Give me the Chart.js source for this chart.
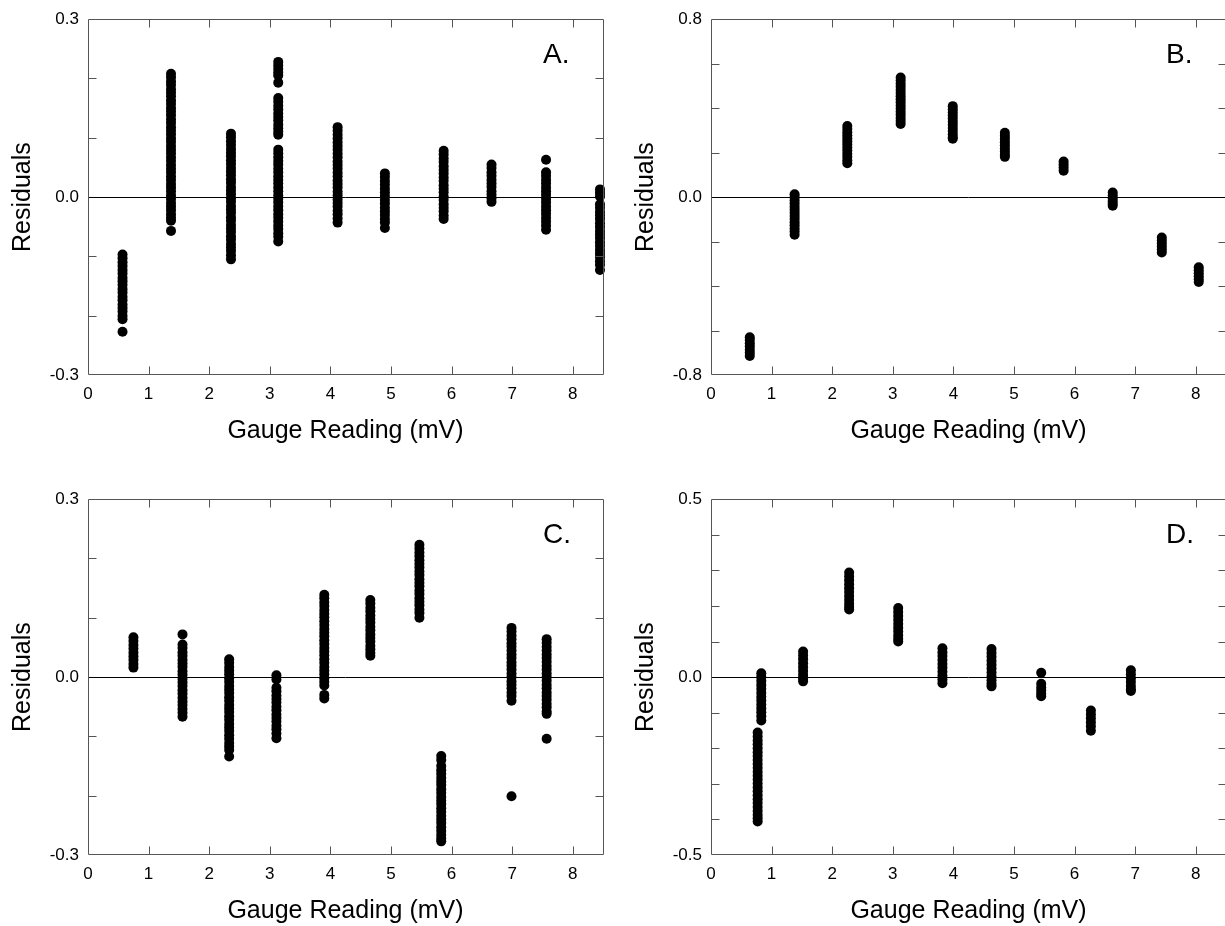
<!DOCTYPE html>
<html>
<head>
<meta charset="utf-8">
<title>Residuals vs gauge reading</title>
<script src="https://cdn.jsdelivr.net/npm/chart.js@4.4.0/dist/chart.umd.min.js"></script>
<style>
  html, body { margin: 0; padding: 0; background: #fff; }
  body { width: 1225px; height: 926px; overflow: hidden; position: relative; }
  canvas { position: absolute; }
</style>
</head>
<body>
<canvas id="panelA" width="640" height="480" style="left:0px;top:0px"></canvas>
<canvas id="panelB" width="640" height="480" style="left:623px;top:0px"></canvas>
<canvas id="panelC" width="640" height="480" style="left:0px;top:480px"></canvas>
<canvas id="panelD" width="640" height="480" style="left:623px;top:480px"></canvas>
<script>
// shared x axis (mV)
const xTicks = [0, 1, 2, 3, 4, 5, 6, 7, 8];
const xMax = 8.5;

// panel A - one list of residuals per gauge reading
const aX = [0.57, 1.37, 2.36, 3.14, 4.12, 4.90, 5.87, 6.66, 7.56, 8.45];
const aY = [
  [-0.097, -0.103, -0.110, -0.116, -0.123, -0.129, -0.136, -0.142, -0.148, -0.155, -0.161, -0.168, -0.174, -0.181, -0.187, -0.193, -0.200, -0.206, -0.227],
  [0.208, 0.202, 0.195, 0.189, 0.182, 0.176, 0.170, 0.163, 0.157, 0.150, 0.144, 0.138, 0.131, 0.125, 0.118, 0.112, 0.106, 0.099, 0.093, 0.086, 0.080, 0.074, 0.067, 0.061, 0.054, 0.048, 0.042, 0.035, 0.029, 0.022, 0.016, 0.010, 0.003, -0.003, -0.010, -0.016, -0.022, -0.029, -0.035, -0.040, -0.057],
  [0.107, 0.101, 0.094, 0.088, 0.081, 0.075, 0.069, 0.062, 0.056, 0.049, 0.043, 0.037, 0.030, 0.024, 0.017, 0.011, 0.005, -0.002, -0.008, -0.015, -0.021, -0.027, -0.034, -0.040, -0.047, -0.053, -0.059, -0.066, -0.072, -0.079, -0.085, -0.091, -0.098, -0.105],
  [0.228, 0.222, 0.216, 0.210, 0.205, 0.193, 0.167, 0.161, 0.154, 0.148, 0.141, 0.135, 0.129, 0.122, 0.116, 0.110, 0.105, 0.080, 0.074, 0.067, 0.061, 0.055, 0.048, 0.042, 0.035, 0.029, 0.023, 0.016, 0.010, 0.003, -0.003, -0.009, -0.016, -0.022, -0.029, -0.035, -0.041, -0.048, -0.054, -0.061, -0.067, -0.075],
  [0.118, 0.112, 0.105, 0.099, 0.092, 0.086, 0.080, 0.073, 0.067, 0.060, 0.054, 0.048, 0.041, 0.035, 0.028, 0.022, 0.016, 0.009, 0.003, -0.004, -0.010, -0.016, -0.023, -0.029, -0.036, -0.043],
  [0.040, 0.034, 0.027, 0.021, 0.014, 0.008, 0.002, -0.005, -0.011, -0.018, -0.024, -0.030, -0.037, -0.043, -0.052],
  [0.078, 0.072, 0.065, 0.059, 0.052, 0.046, 0.040, 0.033, 0.027, 0.020, 0.014, 0.008, 0.001, -0.005, -0.012, -0.018, -0.024, -0.031, -0.037],
  [0.055, 0.049, 0.042, 0.036, 0.029, 0.023, 0.017, 0.010, 0.004, -0.002, -0.008],
  [0.063, 0.042, 0.036, 0.029, 0.023, 0.016, 0.010, 0.004, -0.003, -0.009, -0.016, -0.022, -0.028, -0.035, -0.041, -0.048, -0.055],
  [0.013, 0.007, 0.001, -0.012, -0.018, -0.025, -0.031, -0.037, -0.044, -0.050, -0.057, -0.063, -0.069, -0.076, -0.082, -0.089, -0.095, -0.101, -0.108, -0.114, -0.123]
];
const aYTicks = [-0.3, -0.2, -0.1, 0, 0.1, 0.2, 0.3];
const aYLabels = [-0.3, 0, 0.3];

// panel B
const bX = [0.64, 1.38, 2.25, 3.13, 3.99, 4.85, 5.82, 6.63, 7.44, 8.05];
const bY = [
  [-0.630, -0.643, -0.657, -0.671, -0.686, -0.700, -0.714],
  [0.013, -0.001, -0.015, -0.029, -0.043, -0.057, -0.071, -0.085, -0.099, -0.113, -0.127, -0.141, -0.155, -0.169],
  [0.320, 0.306, 0.292, 0.278, 0.264, 0.250, 0.236, 0.222, 0.208, 0.194, 0.180, 0.166, 0.152],
  [0.538, 0.524, 0.510, 0.496, 0.482, 0.468, 0.454, 0.440, 0.426, 0.412, 0.398, 0.384, 0.370, 0.356, 0.342, 0.329],
  [0.409, 0.395, 0.381, 0.367, 0.353, 0.339, 0.325, 0.311, 0.297, 0.283, 0.269, 0.262],
  [0.289, 0.275, 0.261, 0.247, 0.233, 0.219, 0.205, 0.191, 0.181],
  [0.160, 0.147, 0.133, 0.119],
  [0.021, 0.007, -0.006, -0.019, -0.030, -0.039],
  [-0.182, -0.195, -0.209, -0.222, -0.236, -0.249],
  [-0.316, -0.329, -0.343, -0.356, -0.369, -0.382]
];
const bYTicks = [-0.8, -0.6, -0.4, -0.2, 0, 0.2, 0.4, 0.6, 0.8];
const bYLabels = [-0.8, 0, 0.8];

// panel C
const cX = [0.75, 1.56, 2.33, 3.11, 3.90, 4.66, 5.47, 5.83, 6.99, 7.57];
const cY = [
  [0.067, 0.061, 0.054, 0.048, 0.041, 0.035, 0.029, 0.022, 0.016],
  [0.072, 0.055, 0.049, 0.042, 0.036, 0.029, 0.023, 0.017, 0.010, 0.004, -0.003, -0.009, -0.015, -0.022, -0.028, -0.035, -0.041, -0.047, -0.054, -0.060, -0.067],
  [0.030, 0.024, 0.017, 0.011, 0.005, -0.002, -0.008, -0.015, -0.021, -0.027, -0.034, -0.040, -0.047, -0.053, -0.059, -0.066, -0.072, -0.079, -0.085, -0.091, -0.098, -0.104, -0.111, -0.117, -0.123, -0.134],
  [0.003, -0.004, -0.018, -0.024, -0.031, -0.037, -0.043, -0.050, -0.056, -0.063, -0.069, -0.075, -0.082, -0.088, -0.095, -0.103],
  [0.139, 0.133, 0.126, 0.120, 0.113, 0.107, 0.101, 0.094, 0.088, 0.081, 0.075, 0.069, 0.062, 0.056, 0.049, 0.043, 0.037, 0.030, 0.024, 0.017, 0.011, 0.005, -0.002, -0.008, -0.014, -0.030, -0.036],
  [0.130, 0.124, 0.117, 0.111, 0.104, 0.098, 0.092, 0.085, 0.079, 0.072, 0.066, 0.060, 0.053, 0.047, 0.041, 0.036],
  [0.223, 0.217, 0.210, 0.204, 0.197, 0.191, 0.185, 0.178, 0.172, 0.165, 0.159, 0.153, 0.146, 0.140, 0.133, 0.127, 0.121, 0.114, 0.108, 0.100],
  [-0.133, -0.140, -0.150, -0.157, -0.163, -0.170, -0.176, -0.182, -0.189, -0.195, -0.202, -0.208, -0.214, -0.221, -0.227, -0.234, -0.240, -0.246, -0.253, -0.259, -0.266, -0.272, -0.277],
  [0.083, 0.077, 0.070, 0.064, 0.057, 0.051, 0.045, 0.038, 0.032, 0.025, 0.019, 0.013, 0.006, 0.000, -0.007, -0.013, -0.019, -0.026, -0.032, -0.040, -0.201],
  [0.064, 0.058, 0.051, 0.045, 0.038, 0.032, 0.026, 0.019, 0.013, 0.006, 0.000, -0.006, -0.013, -0.019, -0.026, -0.032, -0.038, -0.045, -0.051, -0.058, -0.062, -0.104]
];
const cYTicks = [-0.3, -0.2, -0.1, 0, 0.1, 0.2, 0.3];
const cYLabels = [-0.3, 0, 0.3];

// panel D (first reading split in two runs, slightly offset)
const dX = [0.83, 0.77, 1.52, 2.28, 3.09, 3.82, 4.63, 5.45, 6.27, 6.93];
const dY = [
  [0.011, 0.000, -0.011, -0.022, -0.033, -0.044, -0.055, -0.066, -0.077, -0.088, -0.099, -0.110, -0.122],
  [-0.156, -0.167, -0.178, -0.189, -0.200, -0.211, -0.222, -0.233, -0.244, -0.255, -0.266, -0.277, -0.288, -0.299, -0.310, -0.321, -0.332, -0.343, -0.354, -0.365, -0.376, -0.387, -0.397, -0.406],
  [0.072, 0.061, 0.050, 0.039, 0.028, 0.017, 0.006, -0.004, -0.012],
  [0.294, 0.283, 0.272, 0.261, 0.250, 0.239, 0.228, 0.217, 0.206, 0.197, 0.190],
  [0.194, 0.183, 0.172, 0.161, 0.150, 0.139, 0.128, 0.117, 0.108, 0.100],
  [0.081, 0.070, 0.059, 0.048, 0.037, 0.026, 0.015, 0.004, -0.007, -0.017],
  [0.079, 0.068, 0.057, 0.046, 0.035, 0.024, 0.013, 0.002, -0.009, -0.019, -0.026],
  [0.012, -0.019, -0.029, -0.038, -0.047, -0.054],
  [-0.094, -0.105, -0.116, -0.127, -0.138, -0.151],
  [0.019, 0.008, -0.003, -0.014, -0.025, -0.034, -0.039]
];
const dYTicks = [-0.5, -0.4, -0.3, -0.2, -0.1, 0, 0.1, 0.2, 0.3, 0.4, 0.5];
const dYLabels = [-0.5, 0, 0.5];

const family = "'Liberation Sans', Arial, Helvetica, sans-serif";
const tickFont = { family: family, size: 17 };
const titleFont = { family: family, size: 25 };

// box round the plot with inward ticks on all four sides, plus the panel letter
const frameTicks = {
  id: 'frameTicks',
  afterDraw(chart, args, opts) {
    const ctx = chart.ctx;
    const a = chart.chartArea;
    const sx = chart.scales.x, sy = chart.scales.y;
    const L = Math.round(a.left) + 0.5, R = Math.round(a.right) + 0.5;
    const T = Math.round(a.top) + 0.5, B = Math.round(a.bottom) - 0.5;
    ctx.save();
    ctx.strokeStyle = '#555';
    ctx.lineWidth = 1;
    ctx.beginPath();
    ctx.rect(L, T, R - L, B - T);
    sx.ticks.forEach(t => {
      if (t.value <= sx.min) return;
      const px = Math.round(sx.getPixelForValue(t.value)) + 0.5;
      ctx.moveTo(px, B); ctx.lineTo(px, B - 8);
      ctx.moveTo(px, T); ctx.lineTo(px, T + 8);
    });
    sy.ticks.forEach(t => {
      if (t.value <= sy.min || t.value >= sy.max || t.value === 0) return;
      const py = Math.round(sy.getPixelForValue(t.value)) + 0.5;
      ctx.moveTo(L, py); ctx.lineTo(L + 8, py);
      ctx.moveTo(R, py); ctx.lineTo(R - 8, py);
    });
    ctx.stroke();
    ctx.fillStyle = '#000';
    ctx.font = '28px ' + family;
    ctx.textAlign = 'left';
    ctx.textBaseline = 'alphabetic';
    ctx.fillText(opts.label, a.right - 60, a.top + 44);
    ctx.restore();
  }
};

function makePanel(id, label, xs, ys, yTicks, yLabels) {
  const points = [];
  xs.forEach((x, i) => {
    ys[i].forEach(y => points.push({ x: x, y: y }));
  });

  return new Chart(document.getElementById(id), {
    type: 'scatter',
    data: {
      datasets: [{
        data: points,
        backgroundColor: '#000',
        borderColor: '#000',
        borderWidth: 0,
        pointRadius: 5,
        pointHoverRadius: 5,
        clip: false
      }]
    },
    options: {
      responsive: false,
      animation: false,
      devicePixelRatio: 1,
      events: [],
      layout: { padding: { top: 15, right: 37, left: 0, bottom: 0 } },
      plugins: {
        legend: { display: false },
        tooltip: { enabled: false },
        frameTicks: { label: label }
      },
      scales: {
        x: {
          type: 'linear',
          min: 0,
          max: xMax,
          afterBuildTicks: s => { s.ticks = xTicks.map(v => ({ value: v })); },
          afterFit: s => { s.height = 105; },
          grid: { display: false, drawTicks: false },
          border: { display: false },
          ticks: {
            autoSkip: false,
            maxRotation: 0,
            padding: 9,
            color: '#000',
            font: tickFont,
            callback: v => String(v)
          },
          title: {
            display: true,
            text: 'Gauge Reading (mV)',
            color: '#000',
            font: titleFont,
            padding: { top: 0, bottom: 34 }
          }
        },
        y: {
          type: 'linear',
          min: yTicks[0],
          max: yTicks[yTicks.length - 1],
          afterBuildTicks: s => { s.ticks = yTicks.map(v => ({ value: v })); },
          afterFit: s => { s.width = 88; },
          grid: {
            drawTicks: false,
            lineWidth: 1,
            color: c => (c.tick && c.tick.value === 0) ? '#000' : 'rgba(0,0,0,0)'
          },
          border: { display: false },
          ticks: {
            autoSkip: false,
            padding: 9,
            color: '#000',
            font: tickFont,
            callback: v => yLabels.includes(v) ? v.toFixed(1) : ''
          },
          title: {
            display: true,
            text: 'Residuals',
            color: '#000',
            font: titleFont,
            padding: { top: 8, bottom: 0 }
          }
        }
      }
    },
    plugins: [frameTicks]
  });
}

makePanel('panelA', 'A.', aX, aY, aYTicks, aYLabels);
makePanel('panelB', 'B.', bX, bY, bYTicks, bYLabels);
makePanel('panelC', 'C.', cX, cY, cYTicks, cYLabels);
makePanel('panelD', 'D.', dX, dY, dYTicks, dYLabels);
</script>
</body>
</html>
